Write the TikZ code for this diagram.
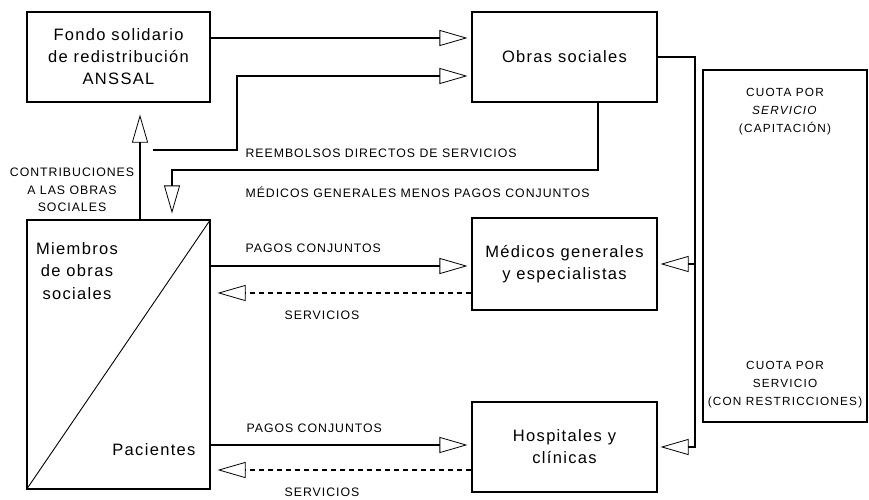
\documentclass[tikz,border=0pt]{standalone}
\usepackage{fontspec}
\setmainfont{Liberation Sans}
\newfontfamily\bigf[LetterSpace=8]{Liberation Sans}
\newfontfamily\smallf[LetterSpace=8]{Liberation Sans}
\newfontfamily\cuotaf[LetterSpace=10]{Liberation Sans}
\usetikzlibrary{arrows.meta}
\begin{document}
\begin{tikzpicture}[x=1pt,y=-1pt,line width=1.1pt,
  box/.style={draw,rectangle,inner sep=0pt,align=center,font=\bigf\fontsize{16.5}{22}\selectfont},
  btxt/.style={inner sep=0pt,align=center,font=\bigf\fontsize{16.5}{22.5}\selectfont},
  lbl/.style={inner sep=0pt,align=center,font=\smallf\fontsize{12.3}{17.5}\selectfont},
  clbl/.style={inner sep=0pt,align=center,font=\cuotaf\fontsize{11.8}{18}\selectfont},
  arr/.style={-{Triangle[open,length=28pt,width=16pt,line width=0.8pt]},shorten >=4pt},
  ser/.style={arr,dash pattern=on 5pt off 4pt}]
\useasboundingbox (0,0) rectangle (869,500);
% boxes
\node[box,minimum width=183pt,minimum height=90pt] (fondo) at (118.5,57) {Fondo solidario\\de redistribución\\ANSSAL};
\node[box,minimum width=185pt,minimum height=90pt] (obras) at (564.5,57) {Obras sociales};
\node[box,minimum width=183pt,minimum height=269pt] (miem) at (118.5,354.5) {};
\node[box,minimum width=185pt,minimum height=92pt] (med) at (564.5,264) {Médicos generales\\y especialistas};
\node[box,minimum width=185pt,minimum height=90pt] (hosp) at (564.5,447) {Hospitales y\\clínicas};
\node[box,minimum width=164pt,minimum height=352pt] (cuota) at (785,246) {};
\draw[line width=0.9pt] (miem.south west) -- (miem.north east);
\node[btxt] (miemtxt) at (77,271) {Miembros\\de obras\\sociales};
\node[btxt,anchor=east] (pac) at (196,450) {Pacientes};
\node[clbl] (cuota1) at (785,112) {CUOTA POR\\\textit{SERVICIO}\\(CAPITACIÓN)};
\node[clbl] (cuota2) at (785,385) {CUOTA POR\\SERVICIO\\(CON RESTRICCIONES)};
% top connectors
\draw[arr] ([yshift=19pt]fondo.east) -- ([yshift=19pt]obras.west);
\coordinate (rs) at (153,150);
\coordinate (k1) at (237,150);
\draw[arr] (rs) -- (k1) |- ([yshift=-19pt]obras.west);
\node[lbl,anchor=west] (reem) at (245,153) {REEMBOLSOS DIRECTOS DE SERVICIOS};
\coordinate (k2) at (598,170);
\draw[arr,shorten >=6pt] ([xshift=33.5pt]obras.south) -- (k2) -| ([xshift=53.5pt]miem.north);
\node[lbl,anchor=west] (medlbl) at (245,192) {MÉDICOS GENERALES MENOS PAGOS CONJUNTOS};
\draw[arr,shorten >=12pt] ([xshift=21.5pt]miem.north) -- ([xshift=21.5pt]fondo.south);
\node[lbl] (contr) at (72,190) {CONTRIBUCIONES\\A LAS OBRAS\\SOCIALES};
% payments and services
\coordinate (p1) at ([yshift=-2pt]med.west);
\draw[arr] (miem.east |- p1) -- (p1);
\node[lbl,anchor=west] (pl1) at (245,248) {PAGOS CONJUNTOS};
\coordinate (s1) at ([yshift=-29pt]med.west);
\draw[ser,shorten >=7pt] (s1) -- (miem.east |- s1);
\node[lbl] (sl1) at (322,315) {SERVICIOS};
\coordinate (p2) at ([yshift=2pt]hosp.west);
\draw[arr] (miem.east |- p2) -- (p2);
\node[lbl,anchor=west] (pl2) at (246,428) {PAGOS CONJUNTOS};
\coordinate (s2) at ([yshift=-23pt]hosp.west);
\draw[ser,shorten >=7pt] (s2) -- (miem.east |- s2);
\node[lbl] (sl2) at (322,492) {SERVICIOS};
% right bus
\coordinate (b1) at (695,57);
\draw[arr,shorten >=3pt] (obras.east) -- (b1) |- (hosp.east);
\draw[arr,shorten >=3pt] (b1 |- med.east) -- (med.east);
\end{tikzpicture}
\end{document}
